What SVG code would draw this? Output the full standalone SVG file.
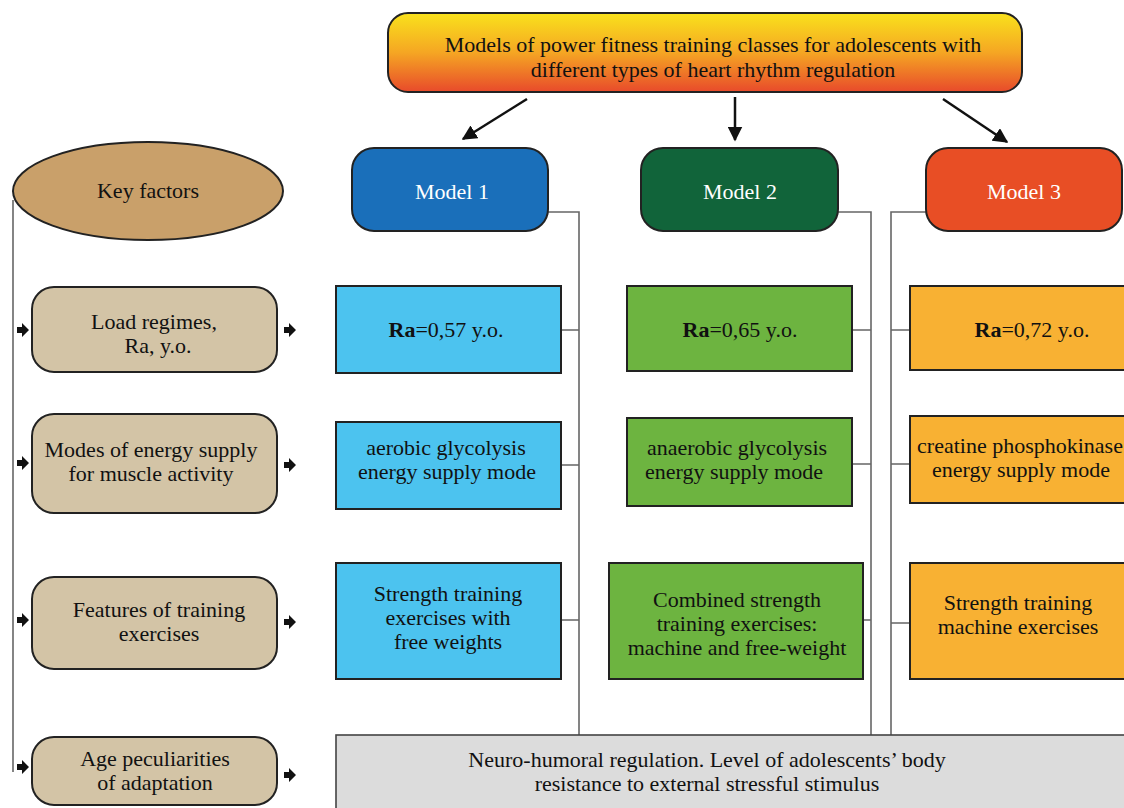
<svg xmlns="http://www.w3.org/2000/svg" width="1124" height="808" viewBox="0 0 1124 808">
<defs>
<linearGradient id="gTitle" x1="0" y1="0" x2="0" y2="1">
<stop offset="0" stop-color="#f9e21c"/>
<stop offset="0.5" stop-color="#f5a623"/>
<stop offset="1" stop-color="#e84a2b"/>
</linearGradient>
<marker id="ah" viewBox="0 0 10 10" refX="9" refY="5" markerWidth="6" markerHeight="6" orient="auto" markerUnits="strokeWidth">
<path d="M0,0 L10,5 L0,10 z" fill="#111"/>
</marker>
<path id="sa" d="M0,-3 L5,-3 L5,-7 L12,0 L5,7 L5,3 L0,3 z" fill="#111"/>
<style>
text{font-family:"Liberation Serif","Times New Roman",serif;font-size:22px;fill:#111;text-anchor:middle}
.w{fill:#fff}
.bx{stroke:#222;stroke-width:2}
.kf{fill:#d3c4a6;stroke:#222;stroke-width:2}
.c1{fill:#4cc3ef}
.c2{fill:#6db440}
.c3{fill:#f8b133}
.ln{fill:none;stroke:#666;stroke-width:1.6}
.ar{fill:none;stroke:#111;stroke-width:2.5;marker-end:url(#ah)}
</style>
</defs>
<rect width="1124" height="808" fill="#fff"/>

<g id="connectors">
<line class="ar" x1="527" y1="99" x2="463" y2="139"/>
<line class="ar" x1="735" y1="97" x2="735" y2="140"/>
<line class="ar" x1="943" y1="99" x2="1007" y2="142"/>
<path class="ln" d="M13,200 V772"/>
<path class="ln" d="M548,212 H579 V735 M561,330 H579 M561,465 H579 M561,620 H579"/>
<path class="ln" d="M838,212 H871 V735 M852,330 H871 M852,464 H871 M863,620 H871"/>
<path class="ln" d="M926,212 H891 V735 M910,330 H891 M910,464 H891 M910,623 H891"/>
<use href="#sa" x="17" y="330"/><use href="#sa" x="284" y="330"/>
<use href="#sa" x="17" y="463"/><use href="#sa" x="284" y="465"/>
<use href="#sa" x="17" y="620"/><use href="#sa" x="284" y="622"/>
<use href="#sa" x="17" y="767"/><use href="#sa" x="284" y="775"/>
</g>

<g id="title">
<rect class="bx" x="388" y="13" width="634" height="79" rx="20" fill="url(#gTitle)"/>
<text x="713" y="52">Models of power fitness training classes for adolescents with</text>
<text x="713" y="77">different types of heart rhythm regulation</text>
</g>

<g id="key-factors">
<ellipse cx="148" cy="191" rx="135" ry="49" fill="#c9a06a" stroke="#222" stroke-width="2"/>
<text x="148" y="198">Key factors</text>
</g>

<g id="model1">
<rect class="bx" x="352" y="148" width="196" height="83" rx="22" fill="#1a6fba"/>
<text class="w" x="452" y="199">Model 1</text>
</g>
<g id="model2">
<rect class="bx" x="641" y="148" width="197" height="83" rx="22" fill="#11643a"/>
<text class="w" x="740" y="199">Model 2</text>
</g>
<g id="model3">
<rect class="bx" x="926" y="148" width="196" height="83" rx="22" fill="#e84e25"/>
<text class="w" x="1024" y="199">Model 3</text>
</g>

<g id="load-regimes">
<rect class="kf" x="32" y="287" width="245" height="85" rx="22"/>
<text x="154" y="329">Load regimes,</text>
<text x="158" y="353">Ra, y.o.</text>
</g>
<g id="energy-modes">
<rect class="kf" x="32" y="414" width="245" height="99" rx="22"/>
<text x="151" y="457">Modes of energy supply</text>
<text x="151" y="481">for muscle activity</text>
</g>
<g id="exercise-features">
<rect class="kf" x="32" y="577" width="245" height="92" rx="22"/>
<text x="159" y="617">Features of training</text>
<text x="159" y="641">exercises</text>
</g>
<g id="age">
<rect class="kf" x="32" y="737" width="245" height="68" rx="22"/>
<text x="155" y="766">Age peculiarities</text>
<text x="155" y="790">of adaptation</text>
</g>

<g id="m1-ra">
<rect class="bx c1" x="336" y="286" width="225" height="87"/>
<text x="446" y="337"><tspan font-weight="bold">Ra</tspan>=0,57 y.o.</text>
</g>
<g id="m1-energy">
<rect class="bx c1" x="336" y="422" width="225" height="87"/>
<text x="446" y="455">aerobic glycolysis</text>
<text x="447" y="479">energy supply mode</text>
</g>
<g id="m1-exercise">
<rect class="bx c1" x="336" y="563" width="225" height="116"/>
<text x="448" y="601">Strength training</text>
<text x="448" y="625">exercises with</text>
<text x="448" y="649">free weights</text>
</g>

<g id="m2-ra">
<rect class="bx c2" x="627" y="286" width="225" height="85"/>
<text x="740" y="337"><tspan font-weight="bold">Ra</tspan>=0,65 y.o.</text>
</g>
<g id="m2-energy">
<rect class="bx c2" x="627" y="418" width="225" height="88"/>
<text x="737" y="455">anaerobic glycolysis</text>
<text x="734" y="479">energy supply mode</text>
</g>
<g id="m2-exercise">
<rect class="bx c2" x="609" y="563" width="254" height="116"/>
<text x="737" y="607">Combined strength</text>
<text x="737" y="631">training exercises:</text>
<text x="737" y="655">machine and free-weight</text>
</g>

<g id="m3-ra">
<rect class="bx c3" x="910" y="286" width="220" height="84"/>
<text x="1032" y="337"><tspan font-weight="bold">Ra</tspan>=0,72 y.o.</text>
</g>
<g id="m3-energy">
<rect class="bx c3" x="910" y="416" width="220" height="87"/>
<text x="1020" y="453">creatine phosphokinase</text>
<text x="1021" y="477">energy supply mode</text>
</g>
<g id="m3-exercise">
<rect class="bx c3" x="910" y="563" width="220" height="116"/>
<text x="1018" y="610">Strength training</text>
<text x="1018" y="634">machine exercises</text>
</g>

<g id="neuro-humoral">
<rect x="336" y="735" width="800" height="80" fill="#dcdcdc" stroke="#444" stroke-width="1.6"/>
<text x="707" y="767">Neuro-humoral regulation. Level of adolescents’ body</text>
<text x="707" y="791">resistance to external stressful stimulus</text>
</g>
</svg>
